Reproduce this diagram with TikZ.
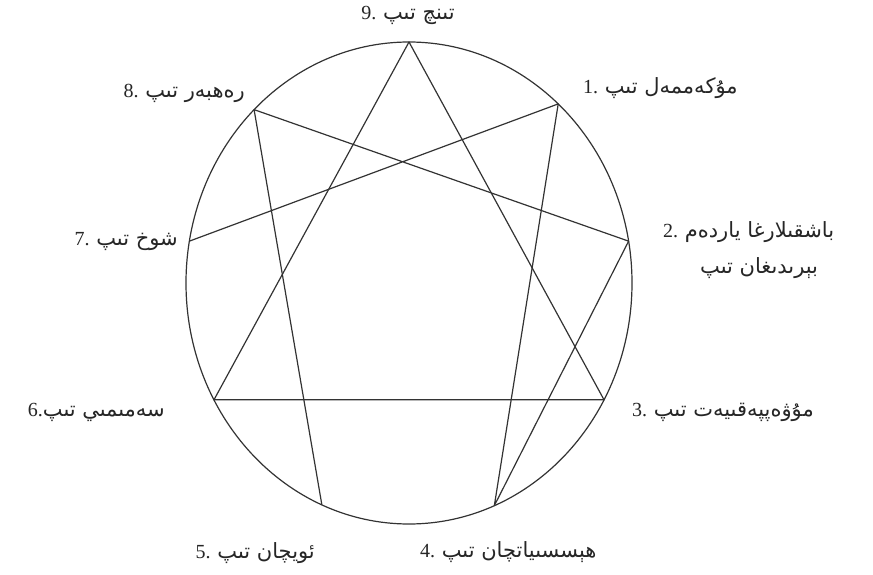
\documentclass[tikz,border=0pt]{standalone}
\usepackage{fontspec}
\setmainfont{Liberation Serif}
\newfontfamily\arabicfont[Script=Arabic,Scale=1.05]{DejaVu Sans}
\TeXXeTstate=1
\begin{document}
\begin{tikzpicture}[x=1pt,y=-1pt,
  lbl/.style={inner sep=0pt,font=\fontsize{20}{24}\selectfont,text=black!85},
  edge/.style={draw=black!80,line width=1.2pt}]
\useasboundingbox[fill=white] (0,0) rectangle (873,575);
\coordinate (c) at (409,283);
\foreach \n/\a in {9/90,1/48,2/10,3/-29,4/-67.5,5/-113,6/-151,7/170,8/134}
  \coordinate (p\n) at ({409+223*cos(\a)},{283-241*sin(\a)});
\draw[edge] (c) ellipse [x radius=223pt, y radius=241pt];
\draw[edge,line join=round] (p9) -- (p3) -- (p6) -- cycle;
\draw[edge,line join=round] (p7) -- (p1) -- (p4) -- (p2) -- (p8) -- (p5);
\node[lbl] (l9) at (408,15) {9. {\arabicfont\beginR تىنچ تىپ\endR}};
\node[lbl,anchor=west] (l1) at (583,88) {1. {\arabicfont\beginR مۇكەممەل تىپ\endR}};
\node[lbl,anchor=east] (l8) at (245,93) {8. {\arabicfont\beginR رەھبەر تىپ\endR}};
\node[lbl,anchor=west] (l2a) at (663,232) {2. {\arabicfont\beginR باشقىلارغا ياردەم\endR}};
\node[lbl,anchor=west] (l2b) at (700,268) {{\arabicfont\beginR بېرىدىغان تىپ\endR}};
\node[lbl,anchor=east] (l7) at (178,242) {7. {\arabicfont\beginR شوخ تىپ\endR}};
\node[lbl,anchor=east] (l6) at (165,412) {6.{\arabicfont\beginR سەمىمىي تىپ\endR}};
\node[lbl,anchor=west] (l3) at (632,412) {3. {\arabicfont\beginR مۇۋەپپەقىيەت تىپ\endR}};
\node[lbl,anchor=west] (l4) at (420,552) {4. {\arabicfont\beginR ھېسسىياتچان تىپ\endR}};
\node[lbl,anchor=east] (l5) at (315,553) {5. {\arabicfont\beginR ئويچان تىپ\endR}};
\end{tikzpicture}
\end{document}
